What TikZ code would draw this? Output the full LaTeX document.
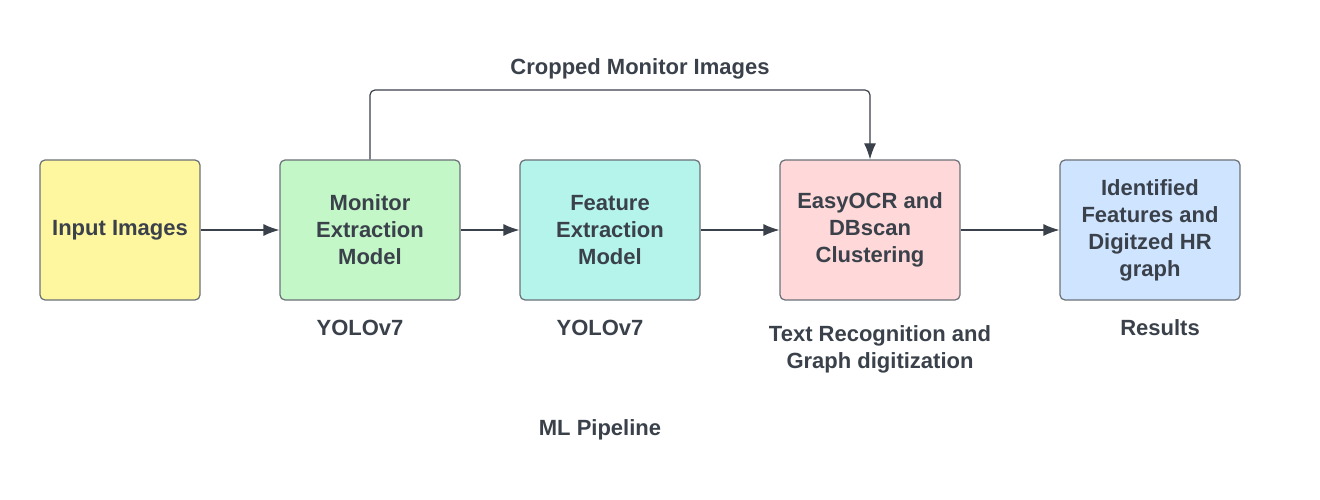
\documentclass[tikz,border=0pt]{standalone}
\usepackage{fontspec}
\setmainfont{Liberation Sans}
\usetikzlibrary{shapes,arrows.meta}
\definecolor{inkgray}{HTML}{3A414A}
\definecolor{edgegray}{HTML}{6B7178}
\definecolor{fillyellow}{HTML}{FFF6A0}
\definecolor{fillgreen}{HTML}{C3F7C8}
\definecolor{fillteal}{HTML}{B5F4EA}
\definecolor{fillpink}{HTML}{FFD9D9}
\definecolor{fillblue}{HTML}{CFE4FF}
\tikzstyle{block} = [rectangle, draw=edgegray, line width=1.2pt, rounded corners=5pt,
minimum width=180pt, minimum height=140pt, align=center, text=inkgray,
font=\fontsize{22}{27}\selectfont\bfseries]
\tikzstyle{caption} = [align=center, text=inkgray, font=\fontsize{22}{27}\selectfont\bfseries]
\tikzstyle{line} = [draw=inkgray, line width=1.2pt, -{Latex[length=16pt,width=12pt]}]

\begin{document}
\begin{tikzpicture}[x=1pt, y=1pt]
\useasboundingbox (0,0) rectangle (1320,-500);
% Place nodes
\node [block, fill=fillyellow, minimum width=160pt] (input) at (120,-230) {Input Images};
\node [block, fill=fillgreen] (monitor) at (370,-230) {Monitor\\Extraction\\Model};
\node [block, fill=fillteal] (feature) at (610,-230) {Feature\\Extraction\\Model};
\node [block, fill=fillpink] (ocr) at (870,-230) {EasyOCR and\\DBscan\\Clustering};
\node [block, fill=fillblue] (results) at (1150,-230) {Identified\\Features and\\Digitzed HR\\graph};
% Captions
\node [caption] (cropped) at (640,-69) {Cropped Monitor Images};
\node [caption] (yolomon) at (360,-328) {YOLOv7};
\node [caption] (yolofeat) at (600,-328) {YOLOv7};
\node [caption] (textrec) at (880,-349) {Text Recognition and\\Graph digitization};
\node [caption] (rescap) at (1160,-328) {Results};
\node [caption] (pipeline) at (600,-430) {ML Pipeline};
% Connectors
\path [line] (input) -- (monitor);
\path [line] (monitor) -- (feature);
\path [line] (feature) -- (ocr);
\path [line] (ocr) -- (results);
\path [line, rounded corners=5pt] (monitor.north) |- (620,-90) -| (ocr.north);
\end{tikzpicture}
\end{document}
